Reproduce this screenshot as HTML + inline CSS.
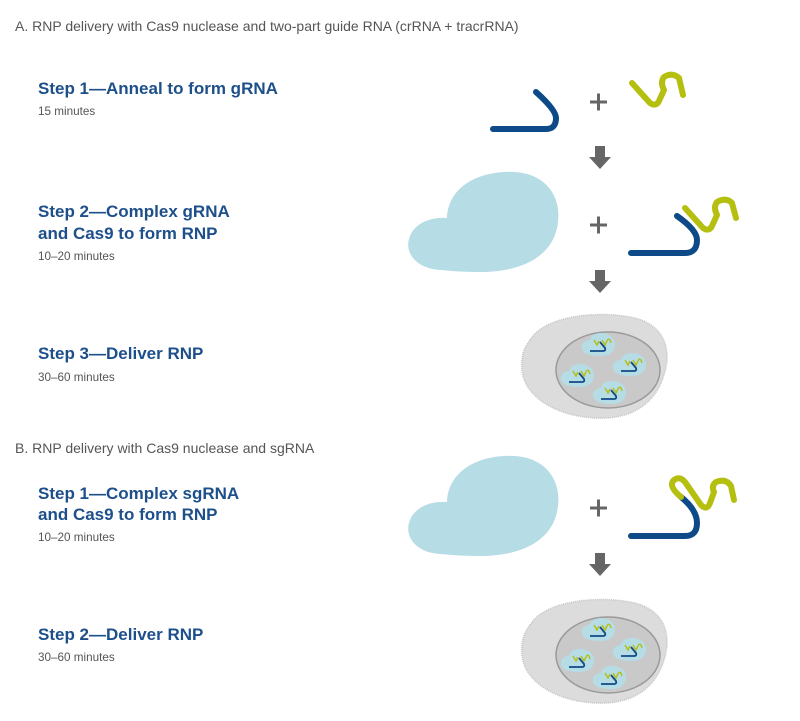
<!DOCTYPE html>
<html><head><meta charset="utf-8"><style>
body{margin:0;background:#fff;width:800px;height:721px;overflow:hidden;font-family:"Liberation Sans",sans-serif}
svg{position:absolute;left:0;top:0}
</style></head><body>
<svg width="800" height="721" viewBox="0 0 800 721">
<defs>
<g id="cloud"><path d="M440,270 C412,268 402,248 412,232 C420,220 435,217 447,218 C448,186 480,170 515,172 C548,174 565,200 556,232 C548,258 520,272 480,272 C462,272 452,271 440,270 Z" fill="#b6dce6"/></g>
<g id="arrow"><rect x="595" y="0" width="10" height="12" fill="#666"/><path d="M589,11 L611,11 L600,23 Z" fill="#666"/></g>
<g id="plus"><rect x="590" y="-1.5" width="17" height="3" fill="#666"/><rect x="597" y="-8.5" width="3" height="17" fill="#666"/></g>
<g id="mini"><path d="M-15,7 C-21,2 -18,-6 -10,-6 C-9,-13 2,-15 9,-11 C16,-8 17,2 11,7 C7,11 -7,11 -15,7 Z" fill="#b6dce6"/><path d="M-10,5 L3,5 Q6,5 5,2 L0,-4" stroke="#124a86" stroke-width="1.8" fill="none"/><path d="M-6,-6 L-3,-1 L-1,-5 M2,-6 L5,-1 L7,-5 Q8,-8 10,-6 L11,-3" stroke="#b5bf10" stroke-width="1.4" fill="none"/></g>
<g id="cell">
<path d="M530,340 C545,315 600,310 635,318 C665,326 672,350 664,375 C655,405 630,420 595,418 C555,416 524,396 522,370 C521,355 524,348 530,340 Z" fill="#dcdcdc" stroke="#c4c4c4" stroke-width="1.5" stroke-dasharray="1 1"/>
<ellipse cx="608" cy="370" rx="52" ry="38" fill="#c9c9c9" stroke="#9a9a9a" stroke-width="1.5"/>
<use href="#mini" x="600" y="346"/><use href="#mini" x="579" y="377"/><use href="#mini" x="631" y="366"/><use href="#mini" x="611" y="394"/>
</g>
</defs>
<path d="M493,129 L546,129 Q556,129 556,118 Q556,110 536,92" stroke="#0d4a87" stroke-width="6" fill="none" stroke-linecap="round"/>
<path d="M632,83 L650,103 Q656,107 659,101 L664,90 Q660,82 664,77 Q672,72 679,78 L683,95" stroke="#b5bf10" stroke-width="6" fill="none" stroke-linecap="round" stroke-linejoin="round"/>
<use href="#plus" y="102"/>
<use href="#arrow" y="146"/>
<use href="#cloud"/>
<use href="#plus" y="225"/>
<path d="M631,253 L685,253 Q697,253 697,240 Q697,230 677,216" stroke="#0d4a87" stroke-width="6" fill="none" stroke-linecap="round"/>
<path d="M685,208 L703,228 Q709,232 712,226 L717,215 Q713,207 717,202 Q726,197 732,203 L736,218" stroke="#b5bf10" stroke-width="6" fill="none" stroke-linecap="round" stroke-linejoin="round"/>
<use href="#arrow" y="270"/>
<use href="#cell"/>
<use href="#cloud" y="284"/>
<use href="#plus" y="508"/>
<path d="M631,536 L685,536 Q697,536 697,523 Q697,510 681,497" stroke="#0d4a87" stroke-width="6" fill="none" stroke-linecap="round"/>
<path d="M681,497 Q669,487 673,481 Q679,475 685,482 L701,505 Q707,511 710,503 L714,492 Q711,486 716,482 Q726,478 731,486 L734,500" stroke="#b5bf10" stroke-width="6" fill="none" stroke-linecap="round" stroke-linejoin="round"/>
<use href="#arrow" y="553"/>
<use href="#cell" y="285"/>
<g font-family="Liberation Sans, sans-serif">
<text x="15" y="31" font-size="14" fill="#555">A. RNP delivery with Cas9 nuclease and two-part guide RNA (crRNA + tracrRNA)</text>
<text x="15" y="453" font-size="14" fill="#555">B. RNP delivery with Cas9 nuclease and sgRNA</text>
<g font-size="17" font-weight="bold" fill="#1d4f8b">
<text x="38" y="94">Step 1—Anneal to form gRNA</text>
<text x="38" y="217">Step 2—Complex gRNA</text>
<text x="38" y="239">and Cas9 to form RNP</text>
<text x="38" y="359">Step 3—Deliver RNP</text>
<text x="38" y="499">Step 1—Complex sgRNA</text>
<text x="38" y="520">and Cas9 to form RNP</text>
<text x="38" y="640">Step 2—Deliver RNP</text>
</g>
<g font-size="11.7" fill="#555">
<text x="38" y="115">15 minutes</text>
<text x="38" y="260">10–20 minutes</text>
<text x="38" y="381">30–60 minutes</text>
<text x="38" y="541">10–20 minutes</text>
<text x="38" y="661">30–60 minutes</text>
</g>
</g>
</svg>
</body></html>
